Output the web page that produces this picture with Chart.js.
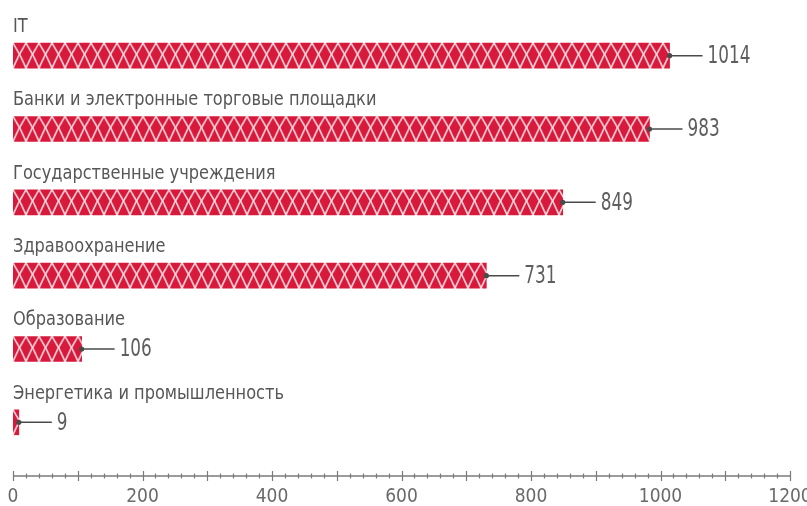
<!DOCTYPE html>
<html>
<head>
<meta charset="utf-8">
<script src="https://cdn.jsdelivr.net/npm/chart.js@4/dist/chart.umd.min.js"></script>
<style>
html,body{margin:0;padding:0;background:#fff;}
canvas{display:block;}
</style>
</head>
<body>
<canvas id="c" width="807" height="506"></canvas>
<script>
const categories = ['IT', 'Банки и электронные торговые площадки', 'Государственные учреждения', 'Здравоохранение', 'Образование', 'Энергетика и промышленность'];
const values = [1014, 983, 849, 731, 106, 9];
const axisLabels = [0, 200, 400, 600, 800, 1000, 1200];

const NARROW = "'Liberation Sans Narrow', 'DejaVu Sans Condensed', sans-serif";
const RED = '#d71a3c';

// lattice tile
const TW = 13, TH = 25;
const tile = document.createElement('canvas');
tile.width = TW; tile.height = TH;
(function(){
  const t = tile.getContext('2d');
  t.fillStyle = RED;
  t.fillRect(0,0,TW,TH);
  t.strokeStyle = 'rgba(255,225,230,0.9)';
  t.lineWidth = 1.7;
  for (const o of [-TW, 0, TW]) {
    t.beginPath();
    t.moveTo(o, 0);
    t.quadraticCurveTo(o + TW*0.62, TH*0.5, o + TW, TH);
    t.stroke();
    t.beginPath();
    t.moveTo(o + TW, 0);
    t.quadraticCurveTo(o + TW*0.38, TH*0.5, o, TH);
    t.stroke();
  }
})();

function barFill(ctx) {
  const chart = ctx.chart;
  if (ctx.type !== 'data' || !chart.scales || !chart.scales.y || !chart.scales.x) return RED;
  const y = chart.scales.y.getPixelForValue(ctx.dataIndex);
  const x0 = chart.scales.x.getPixelForValue(0);
  const p = chart.ctx.createPattern(tile, 'repeat');
  if (p && p.setTransform && isFinite(y)) {
    p.setTransform(new DOMMatrix().translate(x0, y - TH/2));
  }
  return p || RED;
}

function scaledText(ctx, text, x, y, font, sx, color) {
  ctx.save();
  ctx.translate(x, y);
  ctx.scale(sx, 1);
  ctx.fillStyle = color;
  ctx.font = font;
  ctx.textAlign = 'left';
  ctx.textBaseline = 'middle';
  ctx.fillText(text, 0, 0);
  ctx.restore();
}

const labelsPlugin = {
  id: 'labelsPlugin',
  afterDatasetsDraw(chart) {
    const ctx = chart.ctx;
    const meta = chart.getDatasetMeta(0);
    const xs = chart.scales.x;
    ctx.save();
    meta.data.forEach((bar, i) => {
      // category label above bar
      scaledText(ctx, categories[i], xs.getPixelForValue(0), bar.y - 29, '20px ' + NARROW, 0.9, '#575757');
      // leader line
      const xe = bar.x;
      ctx.strokeStyle = '#4a4a4a';
      ctx.lineWidth = 1.5;
      ctx.beginPath();
      ctx.moveTo(xe, bar.y);
      ctx.lineTo(xe + 33, bar.y);
      ctx.stroke();
      ctx.fillStyle = '#4a4a4a';
      ctx.beginPath();
      ctx.arc(xe, bar.y, 2.6, 0, Math.PI*2);
      ctx.fill();
      // value
      scaledText(ctx, String(values[i]), xe + 38, bar.y + 1, '24px ' + NARROW, 0.78, '#5e5e5e');
    });
    // x axis drawn from the x scale
    const ay = 476;
    ctx.strokeStyle = '#7a7a7a';
    ctx.lineWidth = 1.5;
    ctx.beginPath();
    ctx.moveTo(xs.getPixelForValue(0), ay);
    ctx.lineTo(xs.getPixelForValue(1200), ay);
    ctx.stroke();
    ctx.lineWidth = 1.2;
    for (let v = 0; v <= 1200; v += 20) {
      const px = Math.round(xs.getPixelForValue(v)) + 0.5;
      const h = (v % 100 === 0) ? 5 : 2.5;
      ctx.beginPath();
      ctx.moveTo(px, ay - h);
      ctx.lineTo(px, ay + h);
      ctx.stroke();
    }
    ctx.fillStyle = '#6a6a6a';
    ctx.font = '19px ' + NARROW;
    ctx.textAlign = 'center';
    ctx.textBaseline = 'middle';
    axisLabels.forEach(v => {
      ctx.fillText(String(v), xs.getPixelForValue(v), 497);
    });
    ctx.restore();
  }
};

new Chart(document.getElementById('c'), {
  type: 'bar',
  data: {
    labels: categories,
    datasets: [{
      data: values,
      backgroundColor: barFill,
      borderWidth: 0,
      barThickness: 25
    }]
  },
  options: {
    indexAxis: 'y',
    responsive: false,
    devicePixelRatio: 1,
    animation: false,
    layout: { padding: { left: 13, right: 17, top: 19, bottom: 47 } },
    plugins: { legend: { display: false }, tooltip: { enabled: false } },
    scales: {
      x: { display: false, min: 0, max: 1200 },
      y: { display: false }
    }
  },
  plugins: [labelsPlugin]
});
</script>
</body>
</html>
